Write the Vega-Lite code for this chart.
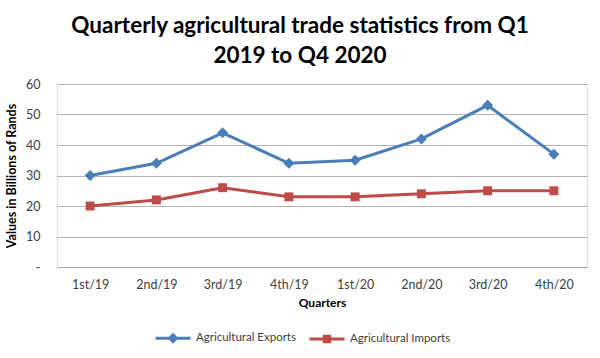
{
  "$schema": "https://vega.github.io/schema/vega-lite/v6.json",
  "width": 530,
  "height": 183,
  "autosize": {"type": "none"},
  "padding": {"left": 57, "top": 84, "right": 13, "bottom": 91},
  "background": "white",
  "title": {
    "text": ["Quarterly agricultural trade statistics from Q1", "2019 to Q4 2020"],
    "font": "Lato",
    "fontSize": 22.5,
    "fontWeight": "bold",
    "color": "#000000",
    "anchor": "middle",
    "frame": "group",
    "dx": -22,
    "lineHeight": 30,
    "offset": 11
  },
  "data": {
    "values": [
      {"quarter": "1st/19", "series": "Agricultural Exports", "value": 30},
      {"quarter": "2nd/19", "series": "Agricultural Exports", "value": 34},
      {"quarter": "3rd/19", "series": "Agricultural Exports", "value": 44},
      {"quarter": "4th/19", "series": "Agricultural Exports", "value": 34},
      {"quarter": "1st/20", "series": "Agricultural Exports", "value": 35},
      {"quarter": "2nd/20", "series": "Agricultural Exports", "value": 42},
      {"quarter": "3rd/20", "series": "Agricultural Exports", "value": 53},
      {"quarter": "4th/20", "series": "Agricultural Exports", "value": 37},
      {"quarter": "1st/19", "series": "Agricultural Imports", "value": 20},
      {"quarter": "2nd/19", "series": "Agricultural Imports", "value": 22},
      {"quarter": "3rd/19", "series": "Agricultural Imports", "value": 26},
      {"quarter": "4th/19", "series": "Agricultural Imports", "value": 23},
      {"quarter": "1st/20", "series": "Agricultural Imports", "value": 23},
      {"quarter": "2nd/20", "series": "Agricultural Imports", "value": 24},
      {"quarter": "3rd/20", "series": "Agricultural Imports", "value": 25},
      {"quarter": "4th/20", "series": "Agricultural Imports", "value": 25}
    ]
  },
  "encoding": {
    "x": {
      "field": "quarter",
      "type": "ordinal",
      "sort": null,
      "scale": {"type": "point", "padding": 0.5},
      "axis": {
        "title": "Quarters",
        "labelAngle": 0,
        "labelFont": "Lato",
        "labelFontSize": 12.5,
        "labelColor": "#404040",
        "labelPadding": 11,
        "ticks": false,
        "domain": true,
        "domainColor": "#a6a6a6",
        "domainWidth": 1,
        "grid": false,
        "titleFont": "Lato",
        "titleFontSize": 12,
        "titleFontWeight": "bold",
        "titleColor": "#000000",
        "titlePadding": 7
      }
    },
    "y": {
      "field": "value",
      "type": "quantitative",
      "scale": {"domain": [0, 60], "nice": false},
      "axis": {
        "title": "Values in Billions of Rands",
        "values": [0, 10, 20, 30, 40, 50, 60],
        "labelExpr": "datum.value === 0 ? '-' : datum.label",
        "labelFont": "Lato",
        "labelFontSize": 12.5,
        "labelColor": "#404040",
        "labelPadding": 17,
        "ticks": false,
        "domain": false,
        "grid": true,
        "gridColor": "#b3b3b3",
        "gridWidth": 1,
        "titleFont": "Lato",
        "titleFontSize": 12.5,
        "titleFontWeight": "bold",
        "titleColor": "#000000",
        "titlePadding": 7
      }
    }
  },
  "layer": [
    {
      "transform": [{"filter": "datum.series === 'Agricultural Exports'"}],
      "mark": {"type": "line", "strokeWidth": 3, "color": "#4a7ebb"}
    },
    {
      "transform": [{"filter": "datum.series === 'Agricultural Imports'"}],
      "mark": {"type": "line", "strokeWidth": 3, "color": "#be4b48"}
    },
    {
      "transform": [{"filter": "datum.series === 'Agricultural Exports'"}],
      "mark": {"type": "point", "shape": "diamond", "filled": true, "size": 120, "opacity": 1, "color": "#4a7ebb"}
    },
    {
      "transform": [{"filter": "datum.series === 'Agricultural Imports'"}],
      "mark": {"type": "point", "shape": "square", "filled": true, "size": 80, "opacity": 1, "color": "#be4b48"}
    },
    {
      "mark": {"type": "point", "filled": true, "size": 0, "opacity": 1},
      "encoding": {
        "fill": {
          "field": "series",
          "type": "nominal",
          "scale": {
            "domain": ["Agricultural Exports", "Agricultural Imports"],
            "range": ["#4a7ebb", "#be4b48"]
          },
          "legend": {
            "title": null,
            "orient": "none",
            "direction": "horizontal",
            "legendX": 110,
            "legendY": 248,
            "labelFont": "Lato",
            "labelFontSize": 11.5,
            "labelColor": "#404040",
            "labelOffset": 17,
            "columnPadding": 10,
            "symbolSize": 100,
            "symbolOpacity": 1
          }
        },
        "shape": {
          "field": "series",
          "type": "nominal",
          "scale": {
            "domain": ["Agricultural Exports", "Agricultural Imports"],
            "range": [
              "M-3.5,-0.3H3.5V0.3H-3.5ZM0,-1.1L1.1,0L0,1.1L-1.1,0Z",
              "M-3.5,-0.3H3.5V0.3H-3.5ZM-0.85,-0.85H0.85V0.85H-0.85Z"
            ]
          },
          "legend": {
            "title": null,
            "orient": "none",
            "direction": "horizontal",
            "legendX": 110,
            "legendY": 248,
            "labelFont": "Lato",
            "labelFontSize": 11.5,
            "labelColor": "#404040",
            "labelOffset": 17,
            "columnPadding": 10,
            "symbolSize": 100,
            "symbolOpacity": 1
          }
        }
      }
    }
  ]
}
